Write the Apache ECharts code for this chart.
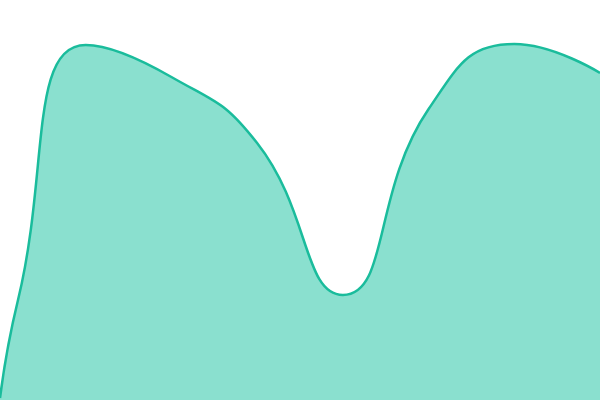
<!DOCTYPE html>
<html><head><meta charset="utf-8">
<script src="https://cdn.jsdelivr.net/npm/echarts@6/dist/echarts.min.js"></script>
<style>html,body{margin:0;padding:0;background:#fff}#c{width:600px;height:400px}</style>
</head><body><div id="c"></div>
<script>
const xPositions = [0, 18, 85.7, 171.4, 257.1, 342.9, 428.6, 514.3, 600];
const values = [2, 100, 355, 323, 257, 105, 291, 356, 327];
const data = xPositions.map((x, i) => [x, values[i]]);
const chart = echarts.init(document.getElementById('c'));
chart.setOption({
  animation:false,
  grid:{left:0,right:0,top:0,bottom:0},
  xAxis:{type:'value',min:0,max:600,show:false},
  yAxis:{type:'value',min:0,max:400,show:false},
  series:[{type:'line',data:data,smooth:0.5,symbol:'none',
    lineStyle:{color:'#1abc9c',width:2.5},
    areaStyle:{color:'#8ae0cf',opacity:1}}]
});
</script></body></html>
